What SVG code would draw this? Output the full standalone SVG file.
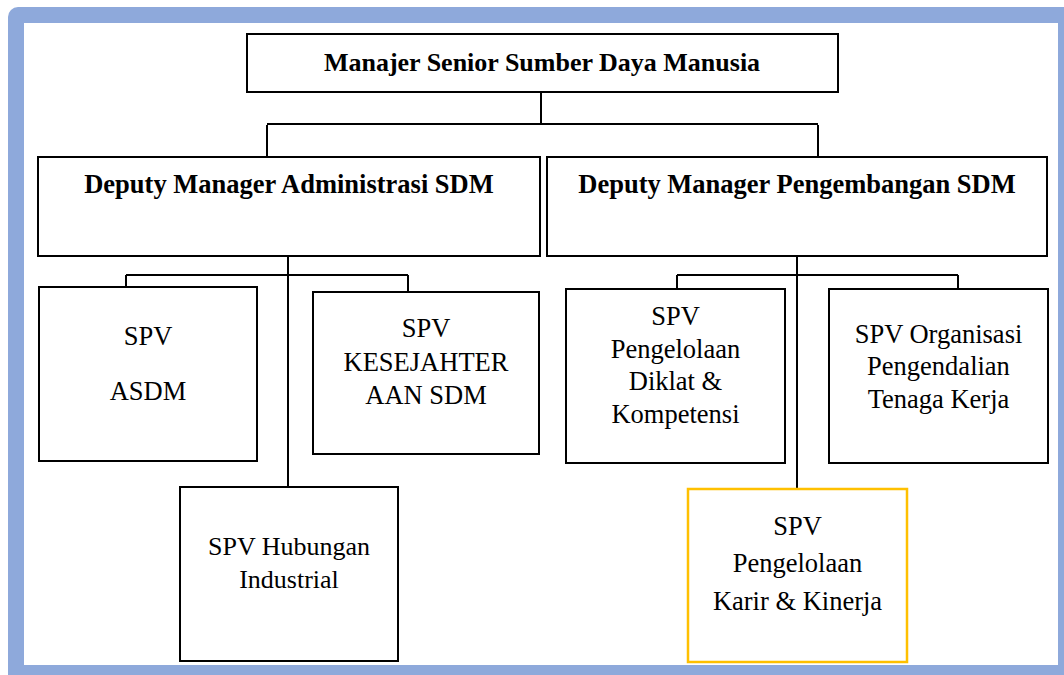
<svg xmlns="http://www.w3.org/2000/svg" width="1064" height="675" viewBox="0 0 1064 675">
<style>
.box{fill:#fff;stroke:#000;stroke-width:2}
.hl{fill:#fff;stroke:#FFC000;stroke-width:2.5}
text{font-family:'Liberation Serif','Times New Roman',serif;fill:#000;text-anchor:middle}
.t{font-size:26.5px}
.s{font-size:26px}
.b{font-size:26.5px;font-weight:bold}
.c{fill:none;stroke:#000;stroke-width:2}
</style>
<rect x="8" y="7" width="1100" height="700" rx="10" fill="#8EA9DB"/>
<rect x="24" y="23" width="1034" height="642" fill="#fff"/>
<g id="connectors">
<path class="c" d="M541 92V125M267 124H818M267 125V157M818 125V157"/>
<path class="c" d="M288 256V487M126 275H408M126 275V287M408 275V292"/>
<path class="c" d="M797 256V489M677 275H958M677 275V289M958 275V289"/>
</g>
<g id="top"><rect class="box" x="247" y="34" width="591" height="58"/><text class="b" x="542" y="71" style="font-size:26px">Manajer Senior Sumber Daya Manusia</text></g>
<g id="dep-admin"><rect class="box" x="38" y="157" width="502" height="99"/><text class="b" x="289" y="193">Deputy Manager Administrasi SDM</text></g>
<g id="dep-peng"><rect class="box" x="547" y="157" width="500" height="99"/><text class="b" x="797" y="193">Deputy Manager Pengembangan SDM</text></g>
<g id="asdm"><rect class="box" x="39" y="287" width="218" height="174"/><text class="t" x="148" y="345">SPV</text><text class="t" x="148" y="400">ASDM</text></g>
<g id="kesejahteraan"><rect class="box" x="313" y="292" width="226" height="162"/><text class="t" x="426" y="337">SPV</text><text class="t" x="426" y="371">KESEJAHTER</text><text class="t" x="426" y="404">AAN SDM</text></g>
<g id="hubungan"><rect class="box" x="180" y="487" width="218" height="174"/><text class="s" x="289" y="555">SPV Hubungan</text><text class="s" x="289" y="588">Industrial</text></g>
<g id="diklat"><rect class="box" x="566" y="289" width="219" height="174"/><text class="t" x="675.5" y="325">SPV</text><text class="t" x="675.5" y="358">Pengelolaan</text><text class="t" x="675.5" y="390">Diklat &amp;</text><text class="t" x="675.5" y="423">Kompetensi</text></g>
<g id="organisasi"><rect class="box" x="829" y="289" width="219" height="174"/><text class="t" x="938.5" y="343">SPV Organisasi</text><text class="t" x="938.5" y="375">Pengendalian</text><text class="t" x="938.5" y="408">Tenaga Kerja</text></g>
<g id="karir"><rect class="hl" x="688" y="489" width="219" height="173"/><text class="t" x="797.5" y="535">SPV</text><text class="t" x="797.5" y="572">Pengelolaan</text><text class="t" x="797.5" y="610">Karir &amp; Kinerja</text></g>
</svg>
